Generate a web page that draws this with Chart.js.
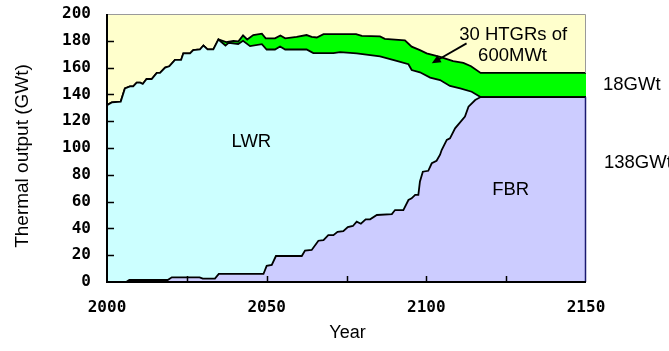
<!DOCTYPE html>
<html>
<head>
<meta charset="utf-8">
<script src="https://cdn.jsdelivr.net/npm/chart.js@4.4.1/dist/chart.umd.min.js"></script>
<style>
  html, body { margin: 0; padding: 0; background: #fff; }
  #wrap { width: 669px; height: 351px; }
</style>
</head>
<body>
<div id="wrap"><canvas id="c" width="669" height="351"></canvas></div>
<script>
// Final installed capacity (GWt) of each reactor type
const fbrEnd = 138;
const htgrEnd = 18;

// FBR output: top edge of the bottom layer
const fbrYears = [2000, 2006, 2007, 2019, 2020.3, 2029, 2030, 2033.8, 2035, 2049,
  2050, 2051.6, 2052.9, 2061, 2062, 2064.1, 2066.2, 2067.8, 2069.3, 2070.9,
  2072.2, 2074, 2075.4, 2077, 2078.2, 2079.5, 2081, 2082.4, 2084.5, 2089.2,
  2090.2, 2092.8, 2094.4, 2095.4, 2096.5, 2097.5, 2098, 2098.9, 2100.6, 2101.7,
  2103.2, 2104.3, 2104.8, 2106.4, 2107.4, 2109, 2112.1, 2113.2, 2115.3, 2117, 2150];
const fbrGW = [0, 0, 1.5, 1.5, 3.5, 3.5, 2.5, 2.5, 6, 6,
  12, 12.7, 19.4, 19.4, 23.4, 23.9, 30.8, 31.3, 35, 35,
  37.5, 38, 41, 41.8, 45, 43.5, 46.8, 46.8, 50, 50.7,
  53.7, 53.7, 61.2, 62.4, 65, 65, 75, 82.3, 83, 88.6,
  90.5, 95, 98.5, 106, 107.2, 114.7, 123.4, 130.8, 135.8, fbrEnd, fbrEnd];

// LWR + FBR before the HTGRs come online (also the total)
const sharedYears = [2000, 2001.5, 2004.3, 2005.6, 2007.2, 2008.2, 2009.3, 2010.4, 2011.2, 2012.4,
  2014, 2015.6, 2016.6, 2018.2, 2019.5, 2021.3, 2023.2, 2023.9, 2026, 2027,
  2029.1, 2030.2, 2031.5, 2033.3, 2034.9];
const sharedGW = [132, 134, 134.6, 144.5, 146, 146, 148.8, 148.8, 147.8, 151.5,
  151.5, 156, 156, 160, 161, 165.7, 165.7, 170.6, 170.6, 173,
  173.5, 176.5, 173.6, 173.6, 181];

// LWR + FBR afterwards (top of the LWR layer)
const lwrYears = [2037.1, 2038.1, 2041.1, 2042.6, 2044.8, 2048.5, 2050, 2052.6, 2054.2, 2055.8,
  2062.5, 2064.6, 2070.9, 2073, 2078.2, 2085.5, 2090.7, 2094.4, 2095.4, 2098,
  2101.2, 2104.3, 2107.4, 2110.6, 2114.2, 2116.3, 2117, 2150];
const lwrGW = [176.5, 178.5, 177.6, 180, 176, 177.5, 173.5, 173.5, 175.8, 173.5,
  173.5, 170.8, 170.8, 171.5, 170.6, 168.3, 165, 162.5, 158.2, 156.5,
  152.5, 150.7, 146.3, 144.5, 142, 139, fbrEnd, fbrEnd];

// Total output including the HTGR layer
const totalYears = [2037.3, 2039.6, 2041.1, 2042.6, 2043.9, 2045.8, 2048.5, 2049.7, 2052.6, 2054.3,
  2055.8, 2059.4, 2062.5, 2064.1, 2065.7, 2067.8, 2078, 2079.8, 2085.5, 2087,
  2093.3, 2095.4, 2098, 2100.1, 2104.3, 2108.4, 2111.6, 2114, 2117, 2150];
const totalGW = [179, 180, 179.5, 184, 181, 184.3, 185.3, 181.8, 181.8, 184,
  181.8, 183, 184.3, 183, 182.5, 185, 185, 183.6, 183.3, 181.5,
  180.3, 175.6, 173, 170.6, 168, 164.8, 163.5, 161, fbrEnd + htgrEnd, fbrEnd + htgrEnd];

// Axis ticks
const yTicks = [0, 20, 40, 60, 80, 100, 120, 140, 160, 180, 200];
const xTicks = [2000, 2050, 2100, 2150];
const xMinorTicks = [2025, 2050, 2075, 2100, 2125];

const pts = (xs, ys) => xs.map((x, i) => ({ x: x, y: ys[i] }));

const labelFont = { family: '"DejaVu Sans Mono", monospace', size: 16, weight: 'bold' };
const textFont = '"Liberation Sans", Arial, sans-serif';

// Plot background, frame, inward tick marks and annotations
const decor = {
  id: 'decor',
  beforeDatasetsDraw(chart) {
    const { ctx, chartArea: a } = chart;
    ctx.save();
    ctx.fillStyle = '#FFFFCC';
    ctx.fillRect(a.left, a.top, a.right - a.left, a.bottom - a.top);
    ctx.restore();
  },
  afterDatasetsDraw(chart) {
    const { ctx, chartArea: a, scales: { x, y } } = chart;
    ctx.save();
    // top and right frame
    ctx.lineWidth = 1;
    ctx.strokeStyle = '#9a9a9a';
    ctx.beginPath();
    ctx.moveTo(a.left, a.top + 0.5);
    ctx.lineTo(a.right - 0.5, a.top + 0.5);
    ctx.lineTo(a.right - 0.5, y.getPixelForValue(fbrEnd + htgrEnd));
    ctx.stroke();
    ctx.strokeStyle = '#1a1a70';
    ctx.lineWidth = 1.5;
    ctx.beginPath();
    ctx.moveTo(a.right - 0.5, y.getPixelForValue(fbrEnd));
    ctx.lineTo(a.right - 0.5, a.bottom);
    ctx.stroke();
    // left and bottom axis lines
    ctx.strokeStyle = '#000';
    ctx.lineWidth = 2;
    ctx.beginPath();
    ctx.moveTo(a.left, a.top);
    ctx.lineTo(a.left, a.bottom);
    ctx.lineTo(a.right, a.bottom);
    ctx.stroke();
    // inward tick marks
    ctx.lineWidth = 1.5;
    ctx.beginPath();
    yTicks.slice(1, -1).forEach(v => {
      const py = Math.round(y.getPixelForValue(v)) + 0.5;
      ctx.moveTo(a.left, py);
      ctx.lineTo(a.left + 7, py);
    });
    xMinorTicks.forEach(v => {
      const px = Math.round(x.getPixelForValue(v)) + 0.5;
      ctx.moveTo(px, a.bottom);
      ctx.lineTo(px, a.bottom - 6);
    });
    ctx.stroke();

    // layer labels
    ctx.fillStyle = '#000';
    ctx.textAlign = 'center';
    ctx.textBaseline = 'middle';
    ctx.font = '18.5px ' + textFont;
    ctx.fillText('LWR', x.getPixelForValue(2045.2), y.getPixelForValue(104.5));
    ctx.fillText('FBR', x.getPixelForValue(2126.4), y.getPixelForValue(68.7));
    ctx.fillText('30 HTGRs of', x.getPixelForValue(2127.2), y.getPixelForValue(184.3));
    ctx.fillText('600MWt', x.getPixelForValue(2127), y.getPixelForValue(168.7));

    // arrow pointing into the HTGR band
    const x0 = x.getPixelForValue(2112.6), y0 = y.getPixelForValue(178.1);
    const x1 = x.getPixelForValue(2101.7), y1 = y.getPixelForValue(163.2);
    const ang = Math.atan2(y1 - y0, x1 - x0);
    const head = 9, half = 4;
    ctx.strokeStyle = '#000';
    ctx.lineWidth = 1.8;
    ctx.beginPath();
    ctx.moveTo(x0, y0);
    ctx.lineTo(x1 - Math.cos(ang) * head * 0.8, y1 - Math.sin(ang) * head * 0.8);
    ctx.stroke();
    ctx.beginPath();
    ctx.moveTo(x1, y1);
    ctx.lineTo(x1 - Math.cos(ang) * head + Math.sin(ang) * half, y1 - Math.sin(ang) * head - Math.cos(ang) * half);
    ctx.lineTo(x1 - Math.cos(ang) * head - Math.sin(ang) * half, y1 - Math.sin(ang) * head + Math.cos(ang) * half);
    ctx.closePath();
    ctx.fill();

    // final capacities at the right edge
    ctx.textAlign = 'left';
    ctx.fillText(htgrEnd + 'GWt', a.right + 17, y.getPixelForValue(fbrEnd + htgrEnd / 2));
    ctx.fillText(fbrEnd + 'GWt', a.right + 18, y.getPixelForValue(89));

    // axis titles
    ctx.textAlign = 'center';
    ctx.font = '18px ' + textFont;
    ctx.fillText('Year', (a.left + a.right) / 2 + 1, 333);
    ctx.save();
    ctx.translate(23, 156);
    ctx.rotate(-Math.PI / 2);
    ctx.font = '19px ' + textFont;
    ctx.fillText('Thermal output (GWt)', 0, 0);
    ctx.restore();
    ctx.restore();
  }
};

const lineStyle = {
  borderColor: '#000',
  borderWidth: 1.8,
  pointRadius: 0,
  tension: 0,
  fill: 'origin'
};

// keep the plot edges fixed regardless of tick-label overhang
const noEdgePadding = s => {
  s.paddingTop = 0; s.paddingBottom = 0; s.paddingLeft = 0; s.paddingRight = 0;
};

new Chart(document.getElementById('c'), {
  type: 'line',
  data: {
    datasets: [
      Object.assign({ label: 'FBR', data: pts(fbrYears, fbrGW), backgroundColor: '#CCCCFF' }, lineStyle),
      Object.assign({ label: 'LWR', data: pts(sharedYears.concat(lwrYears), sharedGW.concat(lwrGW)), backgroundColor: '#CCFFFF' }, lineStyle),
      Object.assign({ label: 'HTGR', data: pts(sharedYears.concat(totalYears), sharedGW.concat(totalGW)), backgroundColor: '#00FF00' }, lineStyle)
    ]
  },
  options: {
    responsive: false,
    animation: false,
    parsing: false,
    layout: { padding: { top: 14, right: 83, left: 0, bottom: 0 } },
    plugins: { legend: { display: false }, tooltip: { enabled: false } },
    scales: {
      x: {
        type: 'linear',
        min: 2000,
        max: 2150,
        afterBuildTicks: s => { s.ticks = xTicks.map(v => ({ value: v })); },
        afterFit: s => { s.height = 69; noEdgePadding(s); },
        grid: { display: false, drawTicks: false },
        border: { display: false },
        ticks: { padding: 16, color: '#000', font: labelFont, maxRotation: 0, autoSkip: false,
          callback: v => String(v) }
      },
      y: {
        type: 'linear',
        min: 0,
        max: 200,
        afterBuildTicks: s => { s.ticks = yTicks.map(v => ({ value: v })); },
        afterFit: s => { s.width = 107; noEdgePadding(s); },
        grid: { display: false, drawTicks: false },
        border: { display: false },
        ticks: { padding: 16, color: '#000', font: labelFont, autoSkip: false,
          callback: v => String(v) }
      }
    }
  },
  plugins: [decor]
});
</script>
</body>
</html>
